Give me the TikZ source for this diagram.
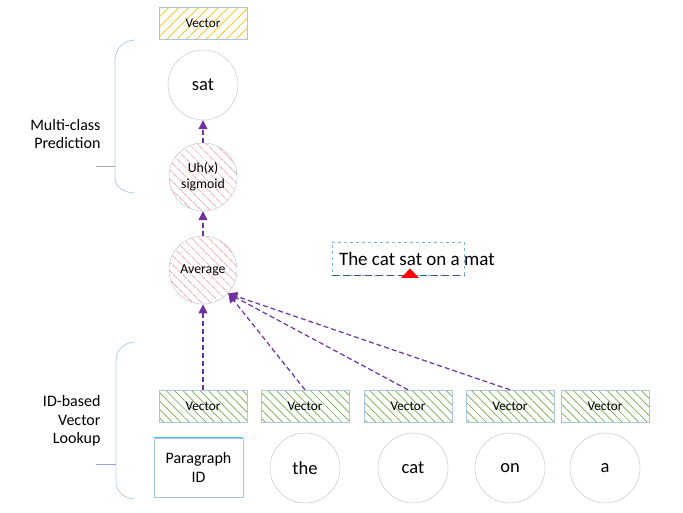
\documentclass[tikz,border=0pt]{standalone}
\usepackage{fontspec}
\setmainfont{Carlito}
\usetikzlibrary{positioning, arrows.meta, patterns.meta, shapes}
\definecolor{arrowpurple}{HTML}{7030A0}
\definecolor{hatchgreen}{HTML}{70AD47}
\definecolor{hatchyellow}{HTML}{FFC000}
\definecolor{hatchred}{HTML}{F39A9A}
\definecolor{boxline}{HTML}{A9C6DE}
\definecolor{circleline}{HTML}{B4C0D0}
\definecolor{braceblue}{HTML}{B8CCE4}
\definecolor{tickgray}{HTML}{A6A6A6}
\definecolor{darkdash}{HTML}{2F5597}
\definecolor{lightdash}{HTML}{7FB2E0}
\tikzstyle{vecbox} = [rectangle, minimum width=88pt, minimum height=32pt, draw=boxline, pattern={Lines[angle=-45,distance=6pt,line width=0.7pt]}, pattern color=hatchgreen, font=\fontsize{13.2}{15}\selectfont]
\tikzstyle{outbox} = [vecbox, pattern={Lines[angle=45,distance=7pt,line width=0.7pt]}, pattern color=hatchyellow]
\tikzstyle{word} = [circle, minimum size=70pt, inner sep=0pt, draw=circleline, font=\fontsize{18.5}{22}\selectfont]
\tikzstyle{hidden} = [circle, minimum size=68pt, inner sep=0pt, draw=circleline, align=center, pattern={Lines[angle=-45,distance=6.5pt,line width=0.9pt]}, pattern color=hatchred, font=\fontsize{13.8}{16}\selectfont]
\tikzstyle{flow} = [arrowpurple, line width=1.2pt, dash pattern=on 5pt off 3pt, -{Triangle[width=9pt,length=9pt]}]
\tikzstyle{brace} = [draw=braceblue, line width=0.8pt]
\tikzstyle{layer} = [align=right, anchor=east, font=\fontsize{16}{18.5}\selectfont]

\begin{document}
\begin{tikzpicture}[x=1pt, y=-1pt, on grid]
	\useasboundingbox (0,0) rectangle (683,513);

	\node (avg) [hidden] at (203,270) {Average};
	\node (sig) [hidden, above=93pt of avg] {Uh(x)\\sigmoid};
	\node (sat) [word, above=92pt of sig] {sat};
	\node (vtop) [outbox, above=61.5pt of sat] {Vector};

	\node (vec1) [vecbox, below=136pt of avg] {Vector};
	\node (vec2) [vecbox, right=102pt of vec1] {Vector};
	\node (vec3) [vecbox, right=103pt of vec2] {Vector};
	\node (vec4) [vecbox, right=102pt of vec3] {Vector};
	\node (vec5) [vecbox, right=95pt of vec4] {Vector};

	\node (pid) [rectangle, draw=boxline, minimum width=89pt, minimum height=59pt, align=center, font=\fontsize{16}{19}\selectfont, below=61.5pt of vec1, xshift=-4.5pt] {Paragraph\\ID};
	\draw [cyan!70, line width=0.8pt] (pid.north west) -- (pid.north east);
	\node (the) [word, below=62pt of vec2] {the};
	\node (cat) [word, below=62pt of vec3, xshift=5pt] {cat};
	\node (on) [word, below=62pt of vec4] {on};
	\node (a) [word, below=62pt of vec5] {a};

	% sentence with the current word marked
	\node (sentbox) [rectangle, draw=lightdash, dashed, minimum width=132pt, minimum height=33pt] at (398,258.5) {};
	\draw [darkdash, dash pattern=on 7pt off 4pt] (sentbox.south west) -- (sentbox.south east);
	\node (sentence) [anchor=west, inner sep=0pt, font=\fontsize{19}{23}\selectfont] at ([xshift=7pt]sentbox.west) {The cat sat on a mat};
	\fill [red] (401,278) -- (410,268.5) -- (419,278) -- cycle;

	% brackets and their labels
	\draw [brace] (135,40) .. controls (124,40) and (115,49) .. (115,60) -- (115,178) .. controls (115,187) and (124,193) .. (135,193);
	\draw [tickgray, line width=0.8pt] (96,166) -- (115,166);
	\node (predlabel) [layer] at (104,134) {Multi-class\\Prediction};

	\draw [brace] (135,342) .. controls (124,342) and (116,351) .. (116,360) -- (116,482) .. controls (116,491) and (124,499) .. (135,499);
	\draw [braceblue!80!blue, line width=0.8pt] (96,464) -- (116,464);
	\node (lookuplabel) [layer] at (104,421) {ID-based\\Vector\\Lookup};

	\draw [flow] (sig) -- (sat);
	\draw [flow] (avg) -- (sig);
	\draw [flow] (vec1) -- (avg);
	\draw [flow] (vec2.north) -- (avg.-43);
	\draw [flow] (vec3.north) -- (avg.-43);
	\draw [flow] (vec4.north) -- (avg.-43);
\end{tikzpicture}
\end{document}
